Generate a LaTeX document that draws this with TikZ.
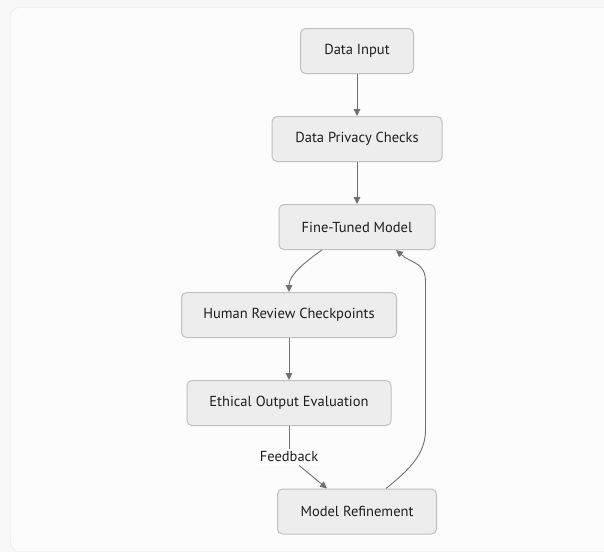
\documentclass[tikz,border=0pt]{standalone}
\usepackage{fontspec}
\setmainfont{PT Sans}
\usetikzlibrary{arrows.meta}
\definecolor{PageGray}{RGB}{248,248,248}
\definecolor{PanelFill}{RGB}{252,252,252}
\definecolor{PanelLine}{RGB}{230,230,230}
\definecolor{BoxFill}{RGB}{237,237,237}
\definecolor{BoxLine}{RGB}{192,192,192}
\definecolor{EdgeGray}{RGB}{112,112,112}
\definecolor{TextDark}{RGB}{30,30,30}

\begin{document}
\begin{tikzpicture}[x=1pt, y=-1pt, font=\fontsize{14.5}{17}\selectfont,
    box/.style={draw=BoxLine, line width=1pt, fill=BoxFill, rounded corners=5pt,
        minimum height=45pt, inner xsep=18pt, text=TextDark},
    flow/.style={draw=EdgeGray, line width=0.9pt, -{Triangle[length=7pt, width=6.5pt]}},
    plain/.style={draw=EdgeGray, line width=0.9pt},
    tag/.style={fill=white, inner xsep=2pt, inner ysep=3pt, text=TextDark}]
    % Page and panel
    \useasboundingbox (0,0) rectangle (604,552);
    \fill[PageGray] (0,0) rectangle (604,552);
    \clip (0,0) rectangle (604,552);
    \draw[PanelLine, fill=PanelFill, rounded corners=9pt] (10.5,7.5) rectangle (650,551.5);

    % Pipeline boxes
    \node[box, minimum width=113pt] (input) at (357,51) {Data Input};
    \node[box, minimum width=170pt] (privacy) at (357,139) {Data Privacy Checks};
    \node[box, minimum width=156pt] (tuned) at (357,227) {Fine-Tuned Model};
    \node[box, minimum width=215pt] (human) at (289,315) {Human Review Checkpoints};
    \node[box, minimum width=204pt] (ethical) at (289,403) {Ethical Output Evaluation};
    \node[box, minimum width=159pt] (refine) at (357,511.5) {Model Refinement};

    % Forward edges
    \draw[flow] (input) -- (privacy);
    \draw[flow] (privacy) -- (tuned);
    \draw[flow] ([xshift=-35pt]tuned.south) .. controls +(-20,14) and +(0,-16) .. (human.north);
    \draw[flow] (human) -- (ethical);

    % Feedback edge
    \node[tag] (feedback) at (289,457) {Feedback};
    \draw[plain] (ethical) -- (feedback);
    \draw[flow] (feedback) -- ([xshift=-30pt]refine.north);

    % Loop back to the model
    \coordinate (loopdown) at (425.5,430);
    \coordinate (loopup) at (425.5,282);
    \draw[flow] ([xshift=29pt]refine.north) .. controls +(22,-18) and +(0,25) .. (loopdown)
        -- (loopup) .. controls +(0,-20) and +(16,14) .. ([xshift=39pt]tuned.south);
\end{tikzpicture}
\end{document}
